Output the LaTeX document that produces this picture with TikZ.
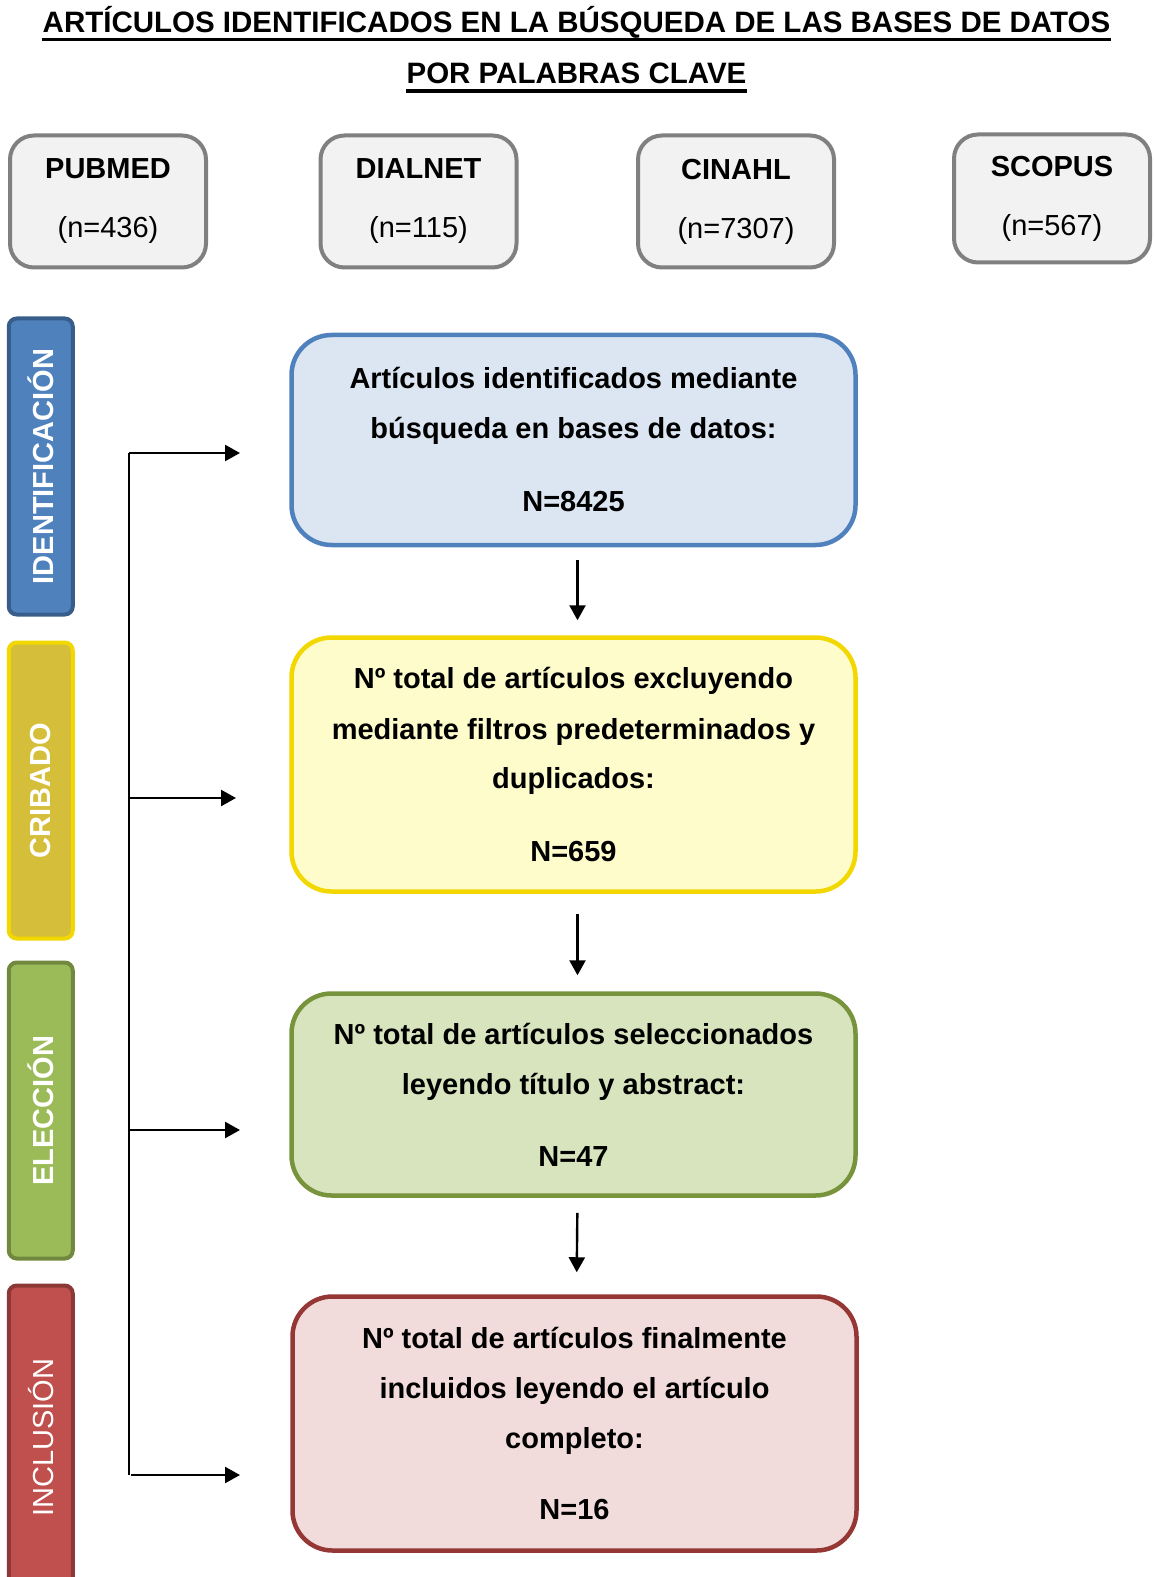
\documentclass[tikz,border=0pt]{standalone}
\usepackage{fontspec}
\setmainfont{Liberation Sans}
\usetikzlibrary{arrows.meta}
\definecolor{dbfill}{HTML}{F2F2F2}
\definecolor{dbline}{HTML}{808080}
\definecolor{blueA}{HTML}{4F81BD}
\definecolor{blueB}{HTML}{385D8A}
\definecolor{blueC}{HTML}{DCE6F2}
\definecolor{yelA}{HTML}{D5BE3A}
\definecolor{yelB}{HTML}{F2D700}
\definecolor{yelC}{HTML}{FEFCCB}
\definecolor{grnA}{HTML}{9BBB59}
\definecolor{grnB}{HTML}{71893F}
\definecolor{grnC}{HTML}{D7E4BD}
\definecolor{grnD}{HTML}{77933C}
\definecolor{redA}{HTML}{C0504D}
\definecolor{redB}{HTML}{8C3836}
\definecolor{redC}{HTML}{F2DCDB}
\definecolor{redD}{HTML}{953735}
\begin{document}
\begin{tikzpicture}[x=0.5pt,y=-0.5pt]
        \useasboundingbox (0,0) rectangle (1153,1577);
        % title
        \begin{scope}
            \tikzstyle{every node}=[anchor=base, inner sep=0pt, font=\bfseries\fontsize{14.75}{17}\selectfont]
            \node (title1) at (576.5,32.5) {ARTÍCULOS IDENTIFICADOS EN LA BÚSQUEDA DE LAS BASES DE DATOS};
            \node (title2) at (576.5,84) {POR PALABRAS CLAVE};
            \draw[line width=1.7pt] ([yshift=-3.5pt]title1.base west) -- ([yshift=-3.5pt]title1.base east);
            \draw[line width=1.7pt] ([yshift=-3.5pt]title2.base west) -- ([yshift=-3.5pt]title2.base east);
        \end{scope}
        % databases
        \begin{scope}
            \tikzstyle{every node}=[fill=dbfill, draw=dbline, line width=2pt, rounded corners=12pt, minimum width=98pt, minimum height=66pt, align=center, font=\fontsize{14.5}{29.5}\selectfont]
            \node (pubmed) at (108,201.5) {\textbf{PUBMED}\\(n=436)};
            \node (dialnet) at (418.5,201.5) {\textbf{DIALNET}\\(n=115)};
            \node (cinahl) at (736,201.5) {\textbf{CINAHL}\\(n=7307)};
            \node[minimum height=64pt] (scopus) at (1052,198.5) {\textbf{SCOPUS}\\(n=567)};
        \end{scope}
        % phases
        \begin{scope}
            \tikzstyle{every node}=[rotate=90, line width=2pt, rounded corners=4pt, minimum width=148pt, minimum height=32pt, text=white, font=\bfseries\fontsize{14.5}{17}\selectfont]
            \node[fill=blueA, draw=blueB] (identif) at (40.75,466.5) {IDENTIFICACIÓN};
            \node[fill=yelA, draw=yelB] (cribado) at (40.75,790.5) {CRIBADO};
            \node[fill=grnA, draw=grnB] (eleccion) at (40.75,1110.5) {ELECCIÓN};
            \node[fill=redA, draw=redB, minimum width=152pt, font=\fontsize{14.5}{17}\selectfont] (inclusion) at (40.75,1437.5) {INCLUSIÓN};
        \end{scope}
        % flow boxes
        \begin{scope}
            \tikzstyle{every node}=[line width=2.25pt, rounded corners=20pt, minimum width=282pt, align=center, font=\bfseries\fontsize{14.5}{25}\selectfont]
            \node[fill=blueC, draw=blueA, minimum height=105pt] (found) at (573.5,440) {Artículos identificados mediante\\búsqueda en bases de datos:\\[11.5pt]N=8425};
            \node[fill=yelC, draw=yelB, minimum height=127pt] (filtered) at (573.5,764.5) {Nº total de artículos excluyendo\\mediante filtros predeterminados y\\duplicados:\\[11pt]N=659};
            \node[fill=grnC, draw=grnD, minimum height=101pt] (selected) at (573.5,1094.5) {Nº total de artículos seleccionados\\leyendo título y abstract:\\[11pt]N=47};
            \node[fill=redC, draw=redD, minimum height=127pt] (included) at (574.5,1423.5) {Nº total de artículos finalmente\\incluidos leyendo el artículo\\completo:\\[10.5pt]N=16};
        \end{scope}
        % trunk
        \coordinate (j1) at (129,453);
        \coordinate (j2) at (129,798);
        \coordinate (j3) at (129,1130);
        \coordinate (j4) at (129,1475);
        \coordinate (t1) at (240,453);
        \coordinate (t2) at (236,798);
        \coordinate (t3) at (240,1130);
        \coordinate (t4) at (240,1475);
        \draw[line width=1pt] (j1) -- (j4);
        \begin{scope}
            \tikzstyle{every edge}=[draw, line width=1.2pt, -{Triangle[length=7.5pt,width=8pt]}]
            \path
            (j1) edge[] (t1)
            (j2) edge[] (t2)
            (j3) edge[] (t3)
            ([xshift=1pt]j4) edge[] (t4)
            ([xshift=2pt]found.south) edge[shorten <=6.5pt, shorten >=7.5pt] ([xshift=2pt]filtered.north)
            ([xshift=2pt]filtered.south) edge[shorten <=10pt, shorten >=8pt] ([xshift=2pt]selected.north)
            ([xshift=2pt]selected.south) edge[shorten <=7.5pt, shorten >=11pt] ([xshift=1pt]included.north);
        \end{scope}
    \end{tikzpicture}
\end{document}
